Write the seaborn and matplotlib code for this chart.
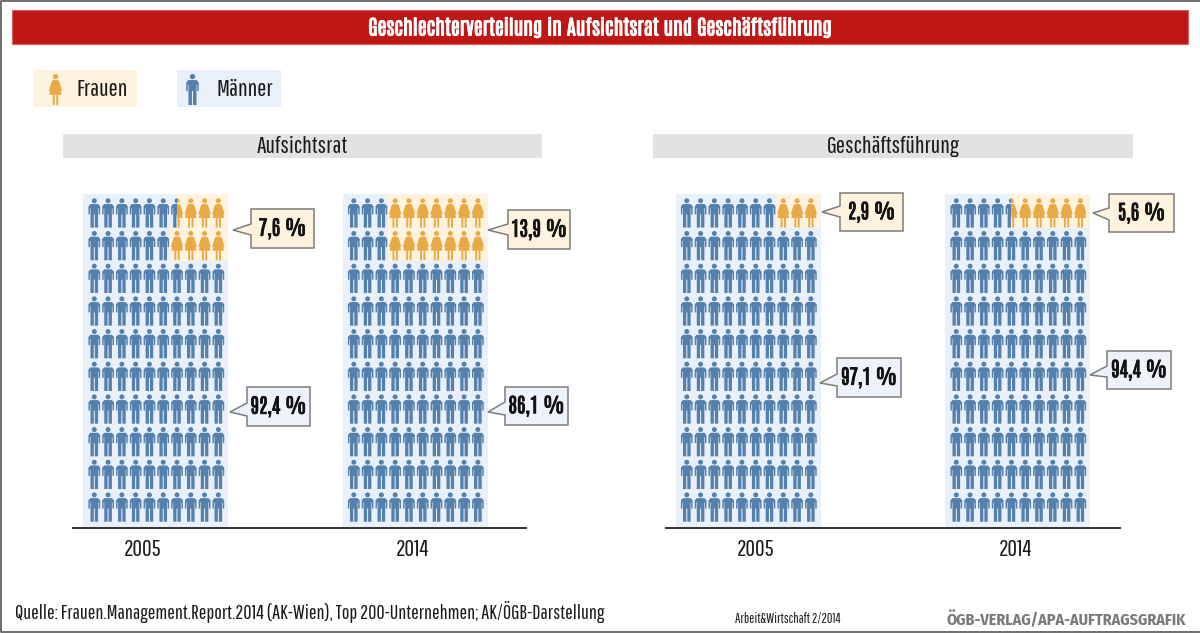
import math

import matplotlib
matplotlib.use("Agg")
import matplotlib.patheffects as pe
import matplotlib.pyplot as plt
import numpy as np
import pandas as pd
import seaborn as sns
from matplotlib.patches import Polygon, Rectangle
from matplotlib.path import Path
from matplotlib.transforms import Affine2D

# Data
panels = ["Aufsichtsrat", "Aufsichtsrat", "Geschäftsführung", "Geschäftsführung"]
years = ["2005", "2014", "2005", "2014"]
women_pct = ["7,6 %", "13,9 %", "2,9 %", "5,6 %"]
men_pct = ["92,4 %", "86,1 %", "97,1 %", "94,4 %"]
# women per row of ten icons, from the top row down
women_rows = [[3.6, 4], [7, 7], [3], [5.6]]
n_rows = 10
n_cols = 10

title = "Geschlechterverteilung in Aufsichtsrat und Geschäftsführung"
source = "Quelle: Frauen.Management.Report.2014 (AK-Wien), Top 200-Unternehmen; AK/ÖGB-Darstellung"
issue = "Arbeit&Wirtschaft 2/2014"
credit = "ÖGB-VERLAG/APA-AUFTRAGSGRAFIK"

RED = "#bf1716"
BLUE = "#5480ad"
ORANGE = "#e9aa45"
BLUE_BG = "#eaf0fa"
ORANGE_BG = "#fdf3df"
GREY_BG = "#e2e2e2"
TEXT = "#1a1a1a"
W, H = 1200, 633

NARROW = ["Pathway Gothic One", "Barlow Condensed", "Liberation Sans", "DejaVu Sans"]
HEAVY = ["Antonio", "Barlow Condensed", "Liberation Sans", "DejaVu Sans"]


def polygon(right_half, side=0):
    """Closed icon outline; side=0 both halves, -1 left only, 1 right only"""
    right = np.array(right_half)
    left = right[::-1] * [-1, 1]
    if side == 0:
        pts = np.vstack([right, left])
    elif side == 1:
        pts = right
    else:
        pts = left
    pts = np.vstack([pts, pts[0]])
    codes = [Path.MOVETO] + [Path.LINETO] * (len(pts) - 2) + [Path.CLOSEPOLY]
    return Path(pts, codes)


def head(side=0):
    if side == 0:
        unit = Path.unit_circle()
    elif side == 1:
        unit = Path.wedge(-90, 90)
    else:
        unit = Path.wedge(90, 270)
    return unit.transformed(Affine2D().scale(0.17).translate(0, 0.83))


MAN = [(0, 0.61), (0.26, 0.61), (0.40, 0.46), (0.40, -0.10), (0.30, -0.10), (0.30, 0.32),
       (0.26, 0.32), (0.26, -1), (0.035, -1), (0.035, -0.10), (0, -0.10)]
WOMAN = [(0, 0.61), (0.15, 0.61), (0.25, 0.50), (0.42, -0.08), (0.34, -0.12), (0.26, 0.14),
         (0.40, -0.34), (0.18, -0.34), (0.18, -1), (0.05, -1), (0.05, -0.34), (0, -0.34)]


def icon(outline, side=0):
    return Path.make_compound_path(head(side), polygon(outline, side))


MARKERS = {
    "Männer": icon(MAN),
    "Frauen": icon(WOMAN),
    "Männer halb": icon(MAN, -1),
    "Frauen halb": icon(WOMAN, 1),
}
PALETTE = {"Männer": BLUE, "Frauen": ORANGE, "Männer halb": BLUE, "Frauen halb": ORANGE}


def icon_table(rows_women):
    """One line per icon in a 10 x 10 block"""
    records = []
    for row in range(n_rows):
        women = rows_women[row] if row < len(rows_women) else 0
        men_full = n_cols - math.ceil(women)
        for col in range(n_cols):
            if col < men_full:
                records.append((col, row, "Männer"))
            elif women != int(women) and col == men_full:
                records.append((col, row, "Männer halb"))
                records.append((col, row, "Frauen halb"))
            else:
                records.append((col, row, "Frauen"))
    return pd.DataFrame(records, columns=["spalte", "reihe", "figur"])


sns.set_theme(style="white")
plt.rcParams["font.family"] = NARROW

fig = plt.figure(figsize=(W / 100, H / 100), dpi=100)
fig.patch.set_facecolor("white")

# Icon blocks, one axes per year
block_lefts = [83, 342.5, 675.5, 945]
block_w, block_h, block_bottom = 145, 333, 527
x_limits = (-0.82, 9.70)
y_limits = (9.61, -0.58)

for left, rows_women in zip(block_lefts, women_rows):
    ax = fig.add_axes([left / W, 1 - block_bottom / H, block_w / W, block_h / H])
    ax.set_facecolor(BLUE_BG)
    for row, women in enumerate(rows_women):
        top = y_limits[1] if row == 0 else row - 0.53
        start = n_cols - women - 0.5
        ax.barh(top, x_limits[1] - start, height=row + 0.47 - top, left=start,
                align="edge", color=ORANGE_BG, linewidth=0, zorder=1)
    sns.scatterplot(data=icon_table(rows_women), x="spalte", y="reihe", hue="figur", style="figur",
                    markers=MARKERS, palette=PALETTE, s=445, linewidth=0, legend=False,
                    ax=ax, zorder=2)
    ax.set(xlim=x_limits, ylim=y_limits, xlabel="", ylabel="", xticks=[], yticks=[])
    sns.despine(ax=ax, left=True, bottom=True)

# Everything else sits on a page axes measured in pixels
page = fig.add_axes([0, 0, 1, 1], facecolor="none")
page.set(xlim=(0, W), ylim=(H, 0), xticks=[], yticks=[])
sns.despine(ax=page, left=True, bottom=True)

# frame: left, top and bottom only
page.plot([W, 0.7, 0.7, W], [0.7, 0.7, H - 1, H - 1], color="#6e6e6e", lw=1.4, clip_on=False)
page.add_patch(Rectangle((12, 10), 1176, 34, fc=RED, ec="#d9605e", lw=0.8))
# Antonio has no bold cut here, a thin stroke thickens it
page.text(600, 27.5, title, color="white", fontsize=14.7, ha="center", va="center", family=HEAVY,
          path_effects=[pe.withStroke(linewidth=0.7, foreground="white")])

# Legend
for x0, x1, bg, color, name, icon_x, label_x in [
    (34, 137, ORANGE_BG, ORANGE, "Frauen", 54.5, 77),
    (177, 281, BLUE_BG, BLUE, "Männer", 192, 217),
]:
    page.add_patch(Rectangle((x0, 70), x1 - x0, 37, fc=bg, ec="none"))
    page.scatter([icon_x], [88.5], marker=MARKERS[name], s=500, color=color, linewidths=0)
    page.text(label_x, 90, name, fontsize=17.5, color=TEXT, va="center")

# Panel headers and base lines
for x0, x1, label in [(63, 542, panels[0]), (653, 1133, panels[2])]:
    page.add_patch(Rectangle((x0, 134), x1 - x0, 24, fc=GREY_BG, ec="none"))
    page.text((x0 + x1) / 2, 146.5, label, fontsize=17.5, color=TEXT, ha="center", va="center")
for x0, x1 in [(71.5, 527), (665, 1121)]:
    page.plot([x0, x1], [527.5, 527.5], color="#222222", lw=1.3, solid_capstyle="butt")

for x, year in zip([143, 412, 756, 1015], years):
    page.text(x, 549, year, fontsize=17, color=TEXT, ha="center", va="center")


def callout(box, tip, base, label, fill):
    x0, y0, x1, y1 = box
    pts = [(x0, y0), (x1, y0), (x1, y1), (x0, y1), (x0, base[1]), tip, (x0, base[0])]
    page.add_patch(Polygon(pts, closed=True, fc=fill, ec="#7d7d7d", lw=1.1, joinstyle="miter"))
    page.text((x0 + x1) / 2, (y0 + y1) / 2, label, fontsize=14.5, color="#111111",
              ha="center", va="center", family=HEAVY,
              path_effects=[pe.withStroke(linewidth=0.6, foreground="#111111")])


women_boxes = [((251, 209, 314, 248), (233, 230), (224, 235)),
               ((508, 210, 570, 249), (488, 230), (224, 235)),
               ((840, 193, 903, 231), (822, 212), (206, 217)),
               ((1109, 194, 1174, 232), (1093, 213), (208, 220))]
men_boxes = [((247, 387, 310, 426), (230, 412), (403, 416)),
             ((505, 387, 568, 425), (488, 412), (402, 415)),
             ((837, 358, 901, 397), (820, 383), (374, 386)),
             ((1107, 351, 1171, 389), (1090, 375), (366, 377))]
for (box, tip, base), label in zip(women_boxes, women_pct):
    callout(box, tip, base, label, ORANGE_BG)
for (box, tip, base), label in zip(men_boxes, men_pct):
    callout(box, tip, base, label, "#eef2fb")

# Footer
page.text(15, 612, source, fontsize=14.6, color=TEXT, va="center")
page.text(735, 618.5, issue, fontsize=9.8, color=TEXT, va="center")
page.text(1186, 620, credit, fontsize=11.5, fontweight="bold", color="#7a7a7a", ha="right", va="center",
          family=["Fira Sans Condensed", "Open Sans", "DejaVu Sans"])

fig.savefig("out.png", dpi=100, facecolor="white")
